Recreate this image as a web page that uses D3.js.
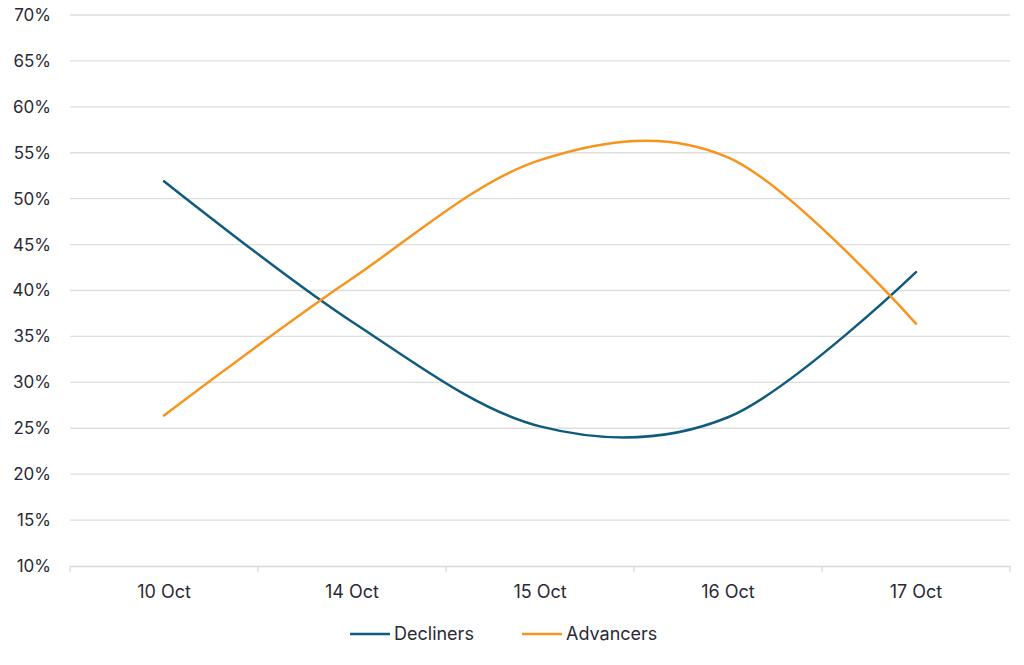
<!DOCTYPE html>
<html>
<head>
<meta charset="utf-8">
<script src="https://cdn.jsdelivr.net/npm/d3@7"></script>
<style>
  body { margin: 0; background: #fff; }
  text { font-family: Inter, "Noto Sans", sans-serif; fill: #2a2a35; }
</style>
</head>
<body>
<div id="chart"></div>
<script>
const categories = ["10 Oct", "14 Oct", "15 Oct", "16 Oct", "17 Oct"];
const decliners = [0.519, 0.366, 0.252, 0.262, 0.420];
const advancers = [0.264, 0.413, 0.542, 0.545, 0.364];
const yTicks = [0.10, 0.15, 0.20, 0.25, 0.30, 0.35, 0.40, 0.45, 0.50, 0.55, 0.60, 0.65, 0.70];

const series = [
  { name: "Decliners", values: decliners, color: "#0f5b7d" },
  { name: "Advancers", values: advancers, color: "#f7941d" }
];

let dimensions = {
  width: 1024,
  height: 665,
  margin: { top: 15, right: 14, bottom: 99, left: 70 }
};
dimensions.boundedWidth = dimensions.width - dimensions.margin.left - dimensions.margin.right;
dimensions.boundedHeight = dimensions.height - dimensions.margin.top - dimensions.margin.bottom;

const wrapper = d3.select("#chart")
  .append("svg")
  .attr("width", dimensions.width)
  .attr("height", dimensions.height);

const bounds = wrapper.append("g")
  .attr("transform", `translate(${dimensions.margin.left},${dimensions.margin.top})`);

const x = d3.scaleBand().domain(categories).range([0, dimensions.boundedWidth]);
const y = d3.scaleLinear().domain([0.10, 0.70]).range([dimensions.boundedHeight, 0]);

// gridlines
bounds.append("g")
  .selectAll("line")
  .data(yTicks.slice(1))
  .join("line")
  .attr("x1", 0)
  .attr("x2", dimensions.boundedWidth)
  .attr("y1", d => y(d))
  .attr("y2", d => y(d))
  .attr("stroke", "#dedede")
  .attr("stroke-width", 1.3);

// y axis labels
const yAxis = bounds.append("g")
  .call(d3.axisLeft(y).tickValues(yTicks).tickFormat(d3.format(".0%")).tickSize(0).tickPadding(19));
yAxis.select(".domain").remove();
yAxis.selectAll("text").style("font-size", "17px").attr("fill", "#2a2a35");

// x axis
const xAxis = bounds.append("g")
  .attr("transform", `translate(0,${dimensions.boundedHeight})`)
  .call(d3.axisBottom(x).tickSize(0).tickPadding(19));
xAxis.select(".domain").attr("stroke", "#d9d9d9").attr("stroke-width", 1.3);
xAxis.selectAll("text").style("font-size", "18px").attr("fill", "#2a2a35");

// tick marks at band edges
const edges = categories.map(c => x(c)).concat([dimensions.boundedWidth]);
xAxis.append("g")
  .selectAll("line")
  .data(edges)
  .join("line")
  .attr("x1", d => d)
  .attr("x2", d => d)
  .attr("y1", 0)
  .attr("y2", 6)
  .attr("stroke", "#d9d9d9")
  .attr("stroke-width", 1.3);

// lines
const lineGenerator = d3.line()
  .x((d, i) => x(categories[i]) + x.bandwidth() / 2)
  .y(d => y(d))
  .curve(d3.curveCardinal.tension(0));

bounds.append("g")
  .selectAll("path")
  .data(series)
  .join("path")
  .attr("d", d => lineGenerator(d.values))
  .attr("fill", "none")
  .attr("stroke", d => d.color)
  .attr("stroke-width", 2.5)
  .attr("stroke-linecap", "round");

// legend
const legend = wrapper.append("g").attr("transform", "translate(350,634)");
const legendItems = legend.selectAll("g")
  .data(series)
  .join("g")
  .attr("transform", (d, i) => `translate(${i * 172},0)`);
legendItems.append("line")
  .attr("x1", 0).attr("x2", 40)
  .attr("stroke", d => d.color)
  .attr("stroke-width", 2.5);
legendItems.append("text")
  .attr("x", 44)
  .attr("dy", "0.35em")
  .style("font-size", "18px")
  .text(d => d.name);
</script>
</body>
</html>
